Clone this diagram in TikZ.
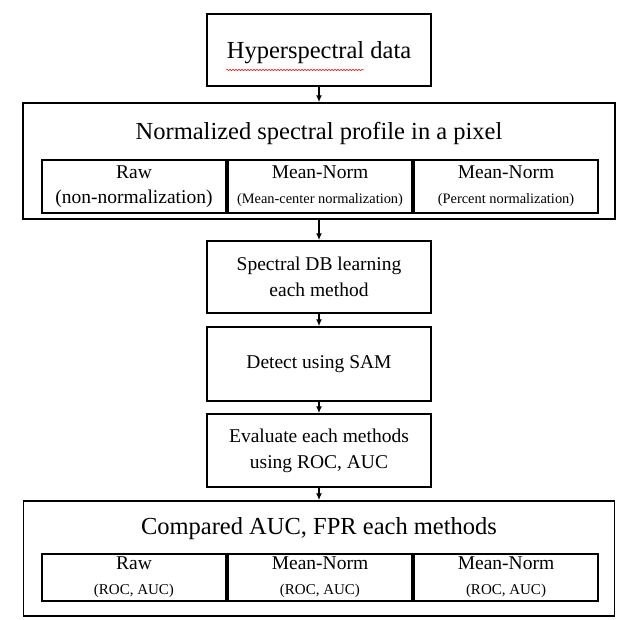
\documentclass[tikz,border=0pt]{standalone}
\usepackage{fontspec}
\setmainfont{Liberation Serif}
\usetikzlibrary{arrows.meta,decorations.pathmorphing}

\begin{document}
\begin{tikzpicture}[x=1pt, y=-1pt,
    box/.style={draw, line width=1.4pt, inner sep=0pt, align=center, font=\fontsize{19.5}{26}\selectfont},
    sub/.style={draw, line width=1.3pt, minimum width=184pt, inner sep=0pt, align=center, font=\fontsize{19.5}{25}\selectfont},
    big/.style={font=\fontsize{24.5}{28}\selectfont},
    flow/.style={line width=1.6pt, -{Latex[length=7pt,width=6pt]}}]
    \useasboundingbox (0,0) rectangle (625,620);
    % top
    \node[box, big, minimum width=224pt, minimum height=72pt, text depth=-3pt] (hyper) at (319,50) {Hyperspectral data};
    \draw[red, line width=0.5pt, decorate, decoration={snake, amplitude=0.7pt, segment length=3pt}] (226,70) -- (364,70);
    % normalization
    \node[box, minimum width=592pt, minimum height=116pt] (norm) at (319,161) {};
    \node[big] (normtitle) at (319,133) {Normalized spectral profile in a pixel};
    \node[sub, minimum height=53pt] (raw) at (134,186.5) {Raw\\(non-normalization)};
    \node[sub, minimum height=53pt] (mean) at (320,186.5) {Mean-Norm\\{\fontsize{14.4}{17}\selectfont(Mean-center normalization)}};
    \node[sub, minimum height=53pt] (perc) at (506,186.5) {Mean-Norm\\{\fontsize{14.4}{17}\selectfont(Percent normalization)}};
    % steps
    \node[box, minimum width=224pt, minimum height=72pt] (learn) at (319,277) {Spectral DB learning\\each method};
    \node[box, minimum width=224pt, minimum height=74pt] (detect) at (319,364) {Detect using SAM};
    \node[box, minimum width=224pt, minimum height=73pt] (eval) at (319,450.5) {Evaluate each methods\\using ROC, AUC};
    % comparison
    \node[box, minimum width=591pt, minimum height=115pt] (comp) at (319,558.5) {};
    \node[big] (comptitle) at (319,529) {Compared AUC, FPR each methods};
    \node[sub, minimum height=47pt] (rawres) at (134,577.5) {Raw\\{\fontsize{15}{17}\selectfont(ROC, AUC)}};
    \node[sub, minimum height=47pt] (meanres) at (320,577.5) {Mean-Norm\\{\fontsize{15}{17}\selectfont(ROC, AUC)}};
    \node[sub, minimum height=47pt] (percres) at (506,577.5) {Mean-Norm\\{\fontsize{15}{17}\selectfont(ROC, AUC)}};
    % arrows
    \draw[flow] (hyper) -- (norm);
    \draw[flow] (norm) -- (learn);
    \draw[flow] (learn) -- (detect);
    \draw[flow] (detect) -- (eval);
    \draw[flow] (eval) -- (comp);
\end{tikzpicture}
\end{document}
